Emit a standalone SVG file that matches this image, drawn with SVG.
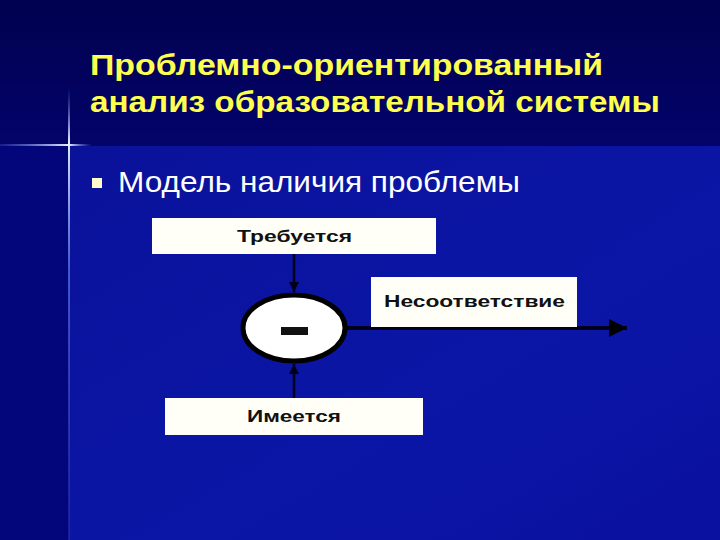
<svg xmlns="http://www.w3.org/2000/svg" width="720" height="540" viewBox="0 0 720 540">
<defs>
<linearGradient id="bgTop" x1="0" y1="0" x2="0" y2="1">
<stop offset="0" stop-color="#01014f"/>
<stop offset="1" stop-color="#03036a"/>
</linearGradient>
<linearGradient id="bgMain" x1="0" y1="0" x2="1" y2="1">
<stop offset="0" stop-color="#0a129a"/>
<stop offset="0.6" stop-color="#0b16a6"/>
<stop offset="1" stop-color="#0a10a0"/>
</linearGradient>
<linearGradient id="hGlow" x1="0" y1="0" x2="1" y2="0">
<stop offset="0" stop-color="#6a8cff" stop-opacity="0.2"/>
<stop offset="0.75" stop-color="#e8f0ff" stop-opacity="1"/>
<stop offset="1" stop-color="#6a8cff" stop-opacity="0"/>
</linearGradient>
<linearGradient id="vGlow" x1="0" y1="0" x2="0" y2="1">
<stop offset="0" stop-color="#6a8cff" stop-opacity="0"/>
<stop offset="0.12" stop-color="#e8f0ff" stop-opacity="1"/>
<stop offset="0.4" stop-color="#6a8cff" stop-opacity="0.6"/>
<stop offset="1" stop-color="#3a50d0" stop-opacity="0.3"/>
</linearGradient>
<marker id="arrowBig" viewBox="0 0 10 10" refX="10" refY="5" markerWidth="6.5" markerHeight="4.5" markerUnits="strokeWidth" orient="auto">
<path d="M0,0 L10,5 L0,10 Z" fill="#000000"/>
</marker>
<marker id="arrowSmall" viewBox="0 0 10 10" refX="10" refY="5" markerWidth="4" markerHeight="4" markerUnits="strokeWidth" orient="auto">
<path d="M0,0 L10,5 L0,10 Z" fill="#00001a"/>
</marker>
<style>
.box { fill: #fffff8; }
.label { font-family: "Liberation Sans", Arial, sans-serif; font-weight: bold; font-size: 16px; fill: #111111; }
.title { font-family: "Liberation Sans", Arial, sans-serif; font-weight: bold; font-size: 29px; fill: #ffff4d; }
.sub { font-family: "Liberation Sans", Arial, sans-serif; font-size: 30px; fill: #ffffff; }
.conn { stroke: #00001c; fill: none; }
</style>
</defs>

<!-- background -->
<rect x="0" y="0" width="720" height="540" fill="#030378"/>
<rect x="0" y="0" width="720" height="146" fill="url(#bgTop)"/>
<rect x="69" y="146" width="651" height="394" fill="url(#bgMain)"/>
<rect x="0" y="146" width="69" height="394" fill="#03057a"/>

<!-- glow cross -->
<rect x="68" y="88" width="2" height="452" fill="url(#vGlow)"/>
<rect x="0" y="144" width="92" height="2" fill="url(#hGlow)"/>

<!-- title -->
<g id="title">
<text class="title" x="90" y="75" textLength="513" lengthAdjust="spacingAndGlyphs">Проблемно-ориентированный</text>
<text class="title" x="90" y="112" textLength="570" lengthAdjust="spacingAndGlyphs">анализ образовательной системы</text>
</g>

<!-- bullet -->
<g id="bullet">
<rect x="92" y="178" width="10" height="10" fill="#ffffcc"/>
<text class="sub" x="118" y="192" textLength="402" lengthAdjust="spacingAndGlyphs">Модель наличия проблемы</text>
</g>

<!-- connectors -->
<g id="connectors">
<line class="conn" x1="294" y1="254" x2="294" y2="292" stroke-width="2.5" marker-end="url(#arrowSmall)"/>
<line class="conn" x1="294" y1="398" x2="294" y2="364" stroke-width="2.5" marker-end="url(#arrowSmall)"/>
<line class="conn" x1="346" y1="328" x2="627" y2="328" stroke-width="4" stroke="#000000" marker-end="url(#arrowBig)"/>
</g>

<!-- nodes -->
<g id="node-required">
<rect class="box" x="152" y="218" width="284" height="36"/>
<text class="label" x="237" y="242" textLength="115" lengthAdjust="spacingAndGlyphs">Требуется</text>
</g>

<g id="node-mismatch">
<rect class="box" x="371" y="277" width="206" height="50"/>
<text class="label" x="384" y="307" textLength="181" lengthAdjust="spacingAndGlyphs">Несоответствие</text>
</g>

<g id="node-have">
<rect class="box" x="165" y="398" width="258" height="37"/>
<text class="label" x="247" y="422" textLength="94" lengthAdjust="spacingAndGlyphs">Имеется</text>
</g>

<g id="node-minus">
<ellipse cx="294" cy="328" rx="51" ry="33" fill="#ffffff" stroke="#000000" stroke-width="5"/>
<rect x="281" y="327" width="27" height="8" fill="#111111"/>
</g>
</svg>
